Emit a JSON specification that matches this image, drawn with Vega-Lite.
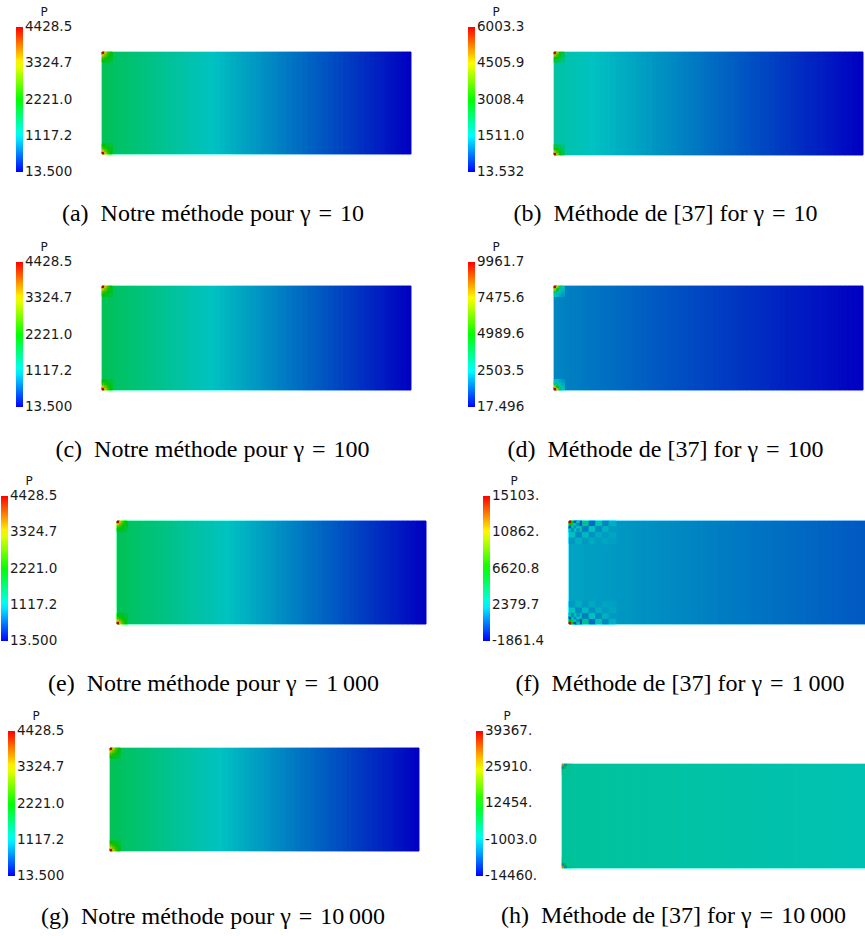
{
  "$schema": "https://vega.github.io/schema/vega-lite/v6.json",
  "padding": 0,
  "background": "white",
  "columns": 2,
  "spacing": 0,
  "bounds": "flush",
  "resolve": {"scale": {"color": "independent", "stroke": "independent", "x": "independent", "y": "independent"}, "legend": {"color": "independent", "stroke": "independent"}},
  "config": {
    "view": {"stroke": null},
    "legend": {"orient": "none", "direction": "vertical", "gradientLength": 145, "gradientThickness": 7, "gradientStrokeWidth": 0, "labelFont": "DejaVu Sans", "labelFontSize": 13.5, "labelColor": "#1a1a1a", "labelOffset": 1, "labelBaseline": "middle", "labelOverlap": false, "titleFont": "DejaVu Sans", "titleFontSize": 12, "titleFontWeight": "normal", "titleColor": "#1a1a1a", "titleAnchor": "middle", "titlePadding": 8, "padding": 0},
    "title": {"font": "Liberation Serif", "fontSize": 24, "fontWeight": "normal", "color": "#000000", "orient": "bottom", "anchor": "middle", "frame": "group"}
  },
  "datasets": {
    "strips": [
      {"x0":0,"x1":0.05,"p":1723.6},{"x0":0.05,"x1":0.1,"p":1694.9},{"x0":0.1,"x1":0.15,"p":1666.2},{"x0":0.15,"x1":0.2,"p":1637.4},
      {"x0":0.2,"x1":0.25,"p":1608.7},{"x0":0.25,"x1":0.3,"p":1579.9},{"x0":0.3,"x1":0.35,"p":1551.2},{"x0":0.35,"x1":0.4,"p":1522.4},
      {"x0":0.4,"x1":0.45,"p":1493.7},{"x0":0.45,"x1":0.5,"p":1465.0},{"x0":0.5,"x1":0.55,"p":1436.2},{"x0":0.55,"x1":0.6,"p":1407.5},
      {"x0":0.6,"x1":0.65,"p":1378.7},{"x0":0.65,"x1":0.7,"p":1350.0},{"x0":0.7,"x1":0.75,"p":1321.3},{"x0":0.75,"x1":0.8,"p":1292.5},
      {"x0":0.8,"x1":0.85,"p":1263.8},{"x0":0.85,"x1":0.9,"p":1235.0},{"x0":0.9,"x1":0.95,"p":1206.3},{"x0":0.95,"x1":1.0,"p":1177.6},
      {"x0":1.0,"x1":1.05,"p":1148.8},{"x0":1.05,"x1":1.1,"p":1120.1},{"x0":1.1,"x1":1.15,"p":1091.3},{"x0":1.15,"x1":1.2,"p":1062.6},
      {"x0":1.2,"x1":1.25,"p":1033.9},{"x0":1.25,"x1":1.3,"p":1005.1},{"x0":1.3,"x1":1.35,"p":976.4},{"x0":1.35,"x1":1.4,"p":947.6},
      {"x0":1.4,"x1":1.45,"p":918.9},{"x0":1.45,"x1":1.5,"p":890.2},{"x0":1.5,"x1":1.55,"p":861.4},{"x0":1.55,"x1":1.6,"p":832.7},
      {"x0":1.6,"x1":1.65,"p":803.9},{"x0":1.65,"x1":1.7,"p":775.2},{"x0":1.7,"x1":1.75,"p":746.5},{"x0":1.75,"x1":1.8,"p":717.7},
      {"x0":1.8,"x1":1.85,"p":689.0},{"x0":1.85,"x1":1.9,"p":660.2},{"x0":1.9,"x1":1.95,"p":631.5},{"x0":1.95,"x1":2.0,"p":602.8},
      {"x0":2.0,"x1":2.05,"p":574.0},{"x0":2.05,"x1":2.1,"p":545.3},{"x0":2.1,"x1":2.15,"p":516.5},{"x0":2.15,"x1":2.2,"p":487.8},
      {"x0":2.2,"x1":2.25,"p":459.1},{"x0":2.25,"x1":2.3,"p":430.3},{"x0":2.3,"x1":2.35,"p":401.6},{"x0":2.35,"x1":2.4,"p":372.8},
      {"x0":2.4,"x1":2.45,"p":344.1},{"x0":2.45,"x1":2.5,"p":315.4},{"x0":2.5,"x1":2.55,"p":286.6},{"x0":2.55,"x1":2.6,"p":257.9},
      {"x0":2.6,"x1":2.65,"p":229.1},{"x0":2.65,"x1":2.7,"p":200.4},{"x0":2.7,"x1":2.75,"p":171.7},{"x0":2.75,"x1":2.8,"p":142.9},
      {"x0":2.8,"x1":2.85,"p":114.2},{"x0":2.85,"x1":2.9,"p":85.4},{"x0":2.9,"x1":2.95,"p":56.7},{"x0":2.95,"x1":3.0,"p":28.0}
    ],
    "spots": [
      {"x0":0,"x1":0.025,"y0":0.975,"y1":1,"pa":4428.5,"pb":6003.3,"pd":9961.7,"pf":15103,"ph":30000},
      {"x0":0.025,"x1":0.05,"y0":0.975,"y1":1,"pa":3287,"pb":4200,"pd":7000,"pf":6500,"ph":-5000},
      {"x0":0.05,"x1":0.075,"y0":0.975,"y1":1,"pa":2580,"pb":3084,"pd":3500,"pf":-300,"ph":4000},
      {"x0":0.075,"x1":0.1,"y0":0.975,"y1":1,"pa":2172,"pb":2440,"pd":2700,"pf":3300,"ph":2500},
      {"x0":0,"x1":0.025,"y0":0.95,"y1":0.975,"pa":3287,"pb":4200,"pd":7000,"pf":6500,"ph":-5000},
      {"x0":0.025,"x1":0.05,"y0":0.95,"y1":0.975,"pa":2825,"pb":3470,"pd":4500,"pf":3800,"ph":9000},
      {"x0":0.05,"x1":0.075,"y0":0.95,"y1":0.975,"pa":2390,"pb":2783,"pd":3000,"pf":3000,"ph":500},
      {"x0":0.075,"x1":0.1,"y0":0.95,"y1":0.975,"pa":2091,"pb":2311,"pd":2400,"pf":1100,"ph":1500},
      {"x0":0,"x1":0.025,"y0":0.925,"y1":0.95,"pa":2580,"pb":3084,"pd":3500,"pf":-300,"ph":4000},
      {"x0":0.025,"x1":0.05,"y0":0.925,"y1":0.95,"pa":2390,"pb":2783,"pd":3000,"pf":3000,"ph":500},
      {"x0":0.05,"x1":0.075,"y0":0.925,"y1":0.95,"pa":2172,"pb":2440,"pd":2600,"pf":1200,"ph":2500},
      {"x0":0.075,"x1":0.1,"y0":0.925,"y1":0.95,"pa":1998,"pb":2165,"pd":2200,"pf":2400,"ph":1900},
      {"x0":0,"x1":0.025,"y0":0.9,"y1":0.925,"pa":2172,"pb":2440,"pd":2700,"pf":3300,"ph":2500},
      {"x0":0.025,"x1":0.05,"y0":0.9,"y1":0.925,"pa":2091,"pb":2311,"pd":2400,"pf":1100,"ph":1500},
      {"x0":0.05,"x1":0.075,"y0":0.9,"y1":0.925,"pa":1998,"pb":2165,"pd":2200,"pf":2400,"ph":1900},
      {"x0":0.075,"x1":0.1,"y0":0.9,"y1":0.925,"pa":1900,"pb":2011,"pd":2000,"pf":1500,"ph":1800},
      {"x0":0,"x1":0.025,"y0":0,"y1":0.025,"pa":4428.5,"pb":6003.3,"pd":9961.7,"pf":15103,"ph":30000},
      {"x0":0.025,"x1":0.05,"y0":0,"y1":0.025,"pa":3287,"pb":4200,"pd":7000,"pf":6500,"ph":-5000},
      {"x0":0.05,"x1":0.075,"y0":0,"y1":0.025,"pa":2580,"pb":3084,"pd":3500,"pf":-300,"ph":4000},
      {"x0":0.075,"x1":0.1,"y0":0,"y1":0.025,"pa":2172,"pb":2440,"pd":2700,"pf":3300,"ph":2500},
      {"x0":0,"x1":0.025,"y0":0.025,"y1":0.05,"pa":3287,"pb":4200,"pd":7000,"pf":6500,"ph":-5000},
      {"x0":0.025,"x1":0.05,"y0":0.025,"y1":0.05,"pa":2825,"pb":3470,"pd":4500,"pf":3800,"ph":9000},
      {"x0":0.05,"x1":0.075,"y0":0.025,"y1":0.05,"pa":2390,"pb":2783,"pd":3000,"pf":3000,"ph":500},
      {"x0":0.075,"x1":0.1,"y0":0.025,"y1":0.05,"pa":2091,"pb":2311,"pd":2400,"pf":1100,"ph":1500},
      {"x0":0,"x1":0.025,"y0":0.05,"y1":0.075,"pa":2580,"pb":3084,"pd":3500,"pf":-300,"ph":4000},
      {"x0":0.025,"x1":0.05,"y0":0.05,"y1":0.075,"pa":2390,"pb":2783,"pd":3000,"pf":3000,"ph":500},
      {"x0":0.05,"x1":0.075,"y0":0.05,"y1":0.075,"pa":2172,"pb":2440,"pd":2600,"pf":1200,"ph":2500},
      {"x0":0.075,"x1":0.1,"y0":0.05,"y1":0.075,"pa":1998,"pb":2165,"pd":2200,"pf":2400,"ph":1900},
      {"x0":0,"x1":0.025,"y0":0.075,"y1":0.1,"pa":2172,"pb":2440,"pd":2700,"pf":3300,"ph":2500},
      {"x0":0.025,"x1":0.05,"y0":0.075,"y1":0.1,"pa":2091,"pb":2311,"pd":2400,"pf":1100,"ph":1500},
      {"x0":0.05,"x1":0.075,"y0":0.075,"y1":0.1,"pa":1998,"pb":2165,"pd":2200,"pf":2400,"ph":1900},
      {"x0":0.075,"x1":0.1,"y0":0.075,"y1":0.1,"pa":1900,"pb":2011,"pd":2000,"pf":1500,"ph":1800}
    ],
    "checker": [
      {"x0":0,"x1":0.065,"y0":0.945,"y1":1,"pf":3700},{"x0":0.065,"x1":0.13,"y0":0.945,"y1":1,"pf":-200},{"x0":0.13,"x1":0.195,"y0":0.945,"y1":1,"pf":3500},{"x0":0.195,"x1":0.26,"y0":0.945,"y1":1,"pf":500},{"x0":0.26,"x1":0.325,"y0":0.945,"y1":1,"pf":2800},{"x0":0.325,"x1":0.39,"y0":0.945,"y1":1,"pf":1100},{"x0":0.39,"x1":0.455,"y0":0.945,"y1":1,"pf":2000},
      {"x0":0,"x1":0.065,"y0":0.89,"y1":0.945,"pf":700},{"x0":0.065,"x1":0.13,"y0":0.89,"y1":0.945,"pf":2900},{"x0":0.13,"x1":0.195,"y0":0.89,"y1":0.945,"pf":900},{"x0":0.195,"x1":0.26,"y0":0.89,"y1":0.945,"pf":2400},{"x0":0.26,"x1":0.325,"y0":0.89,"y1":0.945,"pf":1200},{"x0":0.325,"x1":0.39,"y0":0.89,"y1":0.945,"pf":2000},{"x0":0.39,"x1":0.455,"y0":0.89,"y1":0.945,"pf":1500},
      {"x0":0,"x1":0.065,"y0":0.835,"y1":0.89,"pf":2400},{"x0":0.065,"x1":0.13,"y0":0.835,"y1":0.89,"pf":1200},{"x0":0.13,"x1":0.195,"y0":0.835,"y1":0.89,"pf":2150},{"x0":0.195,"x1":0.26,"y0":0.835,"y1":0.89,"pf":1350},{"x0":0.26,"x1":0.325,"y0":0.835,"y1":0.89,"pf":1900},{"x0":0.325,"x1":0.39,"y0":0.835,"y1":0.89,"pf":1550},{"x0":0.39,"x1":0.455,"y0":0.835,"y1":0.89,"pf":1750},
      {"x0":0,"x1":0.065,"y0":0.78,"y1":0.835,"pf":1450},{"x0":0.065,"x1":0.13,"y0":0.78,"y1":0.835,"pf":1950},{"x0":0.13,"x1":0.195,"y0":0.78,"y1":0.835,"pf":1500},{"x0":0.195,"x1":0.26,"y0":0.78,"y1":0.835,"pf":1850},{"x0":0.26,"x1":0.325,"y0":0.78,"y1":0.835,"pf":1550},{"x0":0.325,"x1":0.39,"y0":0.78,"y1":0.835,"pf":1750},{"x0":0.39,"x1":0.455,"y0":0.78,"y1":0.835,"pf":1650},
      {"x0":0,"x1":0.065,"y0":0,"y1":0.055,"pf":3700},{"x0":0.065,"x1":0.13,"y0":0,"y1":0.055,"pf":-200},{"x0":0.13,"x1":0.195,"y0":0,"y1":0.055,"pf":3500},{"x0":0.195,"x1":0.26,"y0":0,"y1":0.055,"pf":500},{"x0":0.26,"x1":0.325,"y0":0,"y1":0.055,"pf":2800},{"x0":0.325,"x1":0.39,"y0":0,"y1":0.055,"pf":1100},{"x0":0.39,"x1":0.455,"y0":0,"y1":0.055,"pf":2000},
      {"x0":0,"x1":0.065,"y0":0.055,"y1":0.11,"pf":700},{"x0":0.065,"x1":0.13,"y0":0.055,"y1":0.11,"pf":2900},{"x0":0.13,"x1":0.195,"y0":0.055,"y1":0.11,"pf":900},{"x0":0.195,"x1":0.26,"y0":0.055,"y1":0.11,"pf":2400},{"x0":0.26,"x1":0.325,"y0":0.055,"y1":0.11,"pf":1200},{"x0":0.325,"x1":0.39,"y0":0.055,"y1":0.11,"pf":2000},{"x0":0.39,"x1":0.455,"y0":0.055,"y1":0.11,"pf":1500},
      {"x0":0,"x1":0.065,"y0":0.11,"y1":0.165,"pf":2400},{"x0":0.065,"x1":0.13,"y0":0.11,"y1":0.165,"pf":1200},{"x0":0.13,"x1":0.195,"y0":0.11,"y1":0.165,"pf":2150},{"x0":0.195,"x1":0.26,"y0":0.11,"y1":0.165,"pf":1350},{"x0":0.26,"x1":0.325,"y0":0.11,"y1":0.165,"pf":1900},{"x0":0.325,"x1":0.39,"y0":0.11,"y1":0.165,"pf":1550},{"x0":0.39,"x1":0.455,"y0":0.11,"y1":0.165,"pf":1750},
      {"x0":0,"x1":0.065,"y0":0.165,"y1":0.22,"pf":1450},{"x0":0.065,"x1":0.13,"y0":0.165,"y1":0.22,"pf":1950},{"x0":0.13,"x1":0.195,"y0":0.165,"y1":0.22,"pf":1500},{"x0":0.195,"x1":0.26,"y0":0.165,"y1":0.22,"pf":1850},{"x0":0.26,"x1":0.325,"y0":0.165,"y1":0.22,"pf":1550},{"x0":0.325,"x1":0.39,"y0":0.165,"y1":0.22,"pf":1750},{"x0":0.39,"x1":0.455,"y0":0.165,"y1":0.22,"pf":1650}
    ],
    "shade": [{"x0":0,"x1":3}]
  },
  "concat": [
    {
      "width": 430, "height": 234,
      "title": {"text": "(a)\u2002Notre méthode pour γ\u2004=\u200410", "offset": -32, "dx": -2},
      "layer": [
        {"data": {"name": "strips"}, "mark": {"type": "rect", "clip": true, "strokeWidth": 1},
         "encoding": {
           "x": {"field": "x0", "type": "quantitative", "scale": {"domain": [-0.9903, 3.1845], "nice": false, "zero": false}, "axis": null},
           "x2": {"field": "x1"},
           "y": {"datum": 0, "type": "quantitative", "scale": {"domain": [-0.7843, 1.5098], "nice": false, "zero": false}, "axis": null},
           "y2": {"datum": 1},
           "color": {"field": "p", "type": "quantitative", "scale": {"domain": [13.5, 1117.2, 2221.0, 3324.7, 4428.5], "range": ["#0000ff", "#00ffff", "#00ff00", "#ffff00", "#ff0000"], "interpolate": "rgb", "clamp": true},
             "legend": {"type": "gradient", "title": "P", "legendX": 16, "legendY": 7, "titlePadding": 8, "labelBaseline": "middle", "labelFontSize": 13.5, "values": [13.6, 1117.2, 2221.0, 3324.7, 4428.4], "labelExpr": "datum.value < 100 ? '13.500' : datum.value > 4400 ? '4428.5' : format(datum.value, '.1f')"}},
           "stroke": {"field": "p", "type": "quantitative", "scale": {"domain": [13.5001, 1117.2, 2221.0, 3324.7, 4428.5001], "range": ["#0000ff", "#00ffff", "#00ff00", "#ffff00", "#ff0000"], "interpolate": "rgb", "clamp": true}, "legend": null}
         }},
        {"data": {"name": "spots"}, "mark": {"type": "rect", "clip": true, "strokeWidth": 1},
         "encoding": {"x": {"field": "x0", "type": "quantitative"}, "x2": {"field": "x1"}, "y": {"field": "y0", "type": "quantitative"}, "y2": {"field": "y1"},
           "color": {"field": "pa", "type": "quantitative"}, "stroke": {"field": "pa", "type": "quantitative", "legend": null}}},
        {"data": {"name": "shade"}, "mark": {"type": "rect", "clip": true, "color": "#000000", "opacity": 0.24},
         "encoding": {"x": {"field": "x0", "type": "quantitative"}, "x2": {"field": "x1"}, "y": {"datum": 0, "type": "quantitative"}, "y2": {"datum": 1}}}
      ]
    },
    {
      "width": 435, "height": 234,
      "title": {"text": "(b)\u2002Méthode de [37] for γ\u2004=\u200410", "offset": -32, "dx": 18},
      "layer": [
        {"data": {"name": "strips"}, "mark": {"type": "rect", "clip": true, "strokeWidth": 1},
         "encoding": {
           "x": {"field": "x0", "type": "quantitative", "scale": {"domain": [-1.2039, 3.0194], "nice": false, "zero": false}, "axis": null},
           "x2": {"field": "x1"},
           "y": {"datum": 0, "type": "quantitative", "scale": {"domain": [-0.7670, 1.5049], "nice": false, "zero": false}, "axis": null},
           "y2": {"datum": 1},
           "color": {"field": "p", "type": "quantitative", "scale": {"domain": [13.532, 1511.0, 3008.4, 4505.9, 6003.3], "range": ["#0000ff", "#00ffff", "#00ff00", "#ffff00", "#ff0000"], "interpolate": "rgb", "clamp": true},
             "legend": {"type": "gradient", "title": "P", "legendX": 38, "legendY": 7, "titlePadding": 8, "labelBaseline": "middle", "labelFontSize": 13.5, "values": [13.6, 1511.0, 3008.4, 4505.9, 6003.2], "labelExpr": "datum.value < 100 ? '13.532' : datum.value > 6000 ? '6003.3' : format(datum.value, '.1f')"}},
           "stroke": {"field": "p", "type": "quantitative", "scale": {"domain": [13.5321, 1511.0, 3008.4, 4505.9, 6003.3001], "range": ["#0000ff", "#00ffff", "#00ff00", "#ffff00", "#ff0000"], "interpolate": "rgb", "clamp": true}, "legend": null}
         }},
        {"data": {"name": "spots"}, "mark": {"type": "rect", "clip": true, "strokeWidth": 1},
         "encoding": {"x": {"field": "x0", "type": "quantitative"}, "x2": {"field": "x1"}, "y": {"field": "y0", "type": "quantitative"}, "y2": {"field": "y1"},
           "color": {"field": "pb", "type": "quantitative"}, "stroke": {"field": "pb", "type": "quantitative", "legend": null}}},
        {"data": {"name": "shade"}, "mark": {"type": "rect", "clip": true, "color": "#000000", "opacity": 0.24},
         "encoding": {"x": {"field": "x0", "type": "quantitative"}, "x2": {"field": "x1"}, "y": {"datum": 0, "type": "quantitative"}, "y2": {"datum": 1}}}
      ]
    },
    {
      "width": 430, "height": 234,
      "title": {"text": "(c)\u2002Notre méthode pour γ\u2004=\u2004100", "offset": -30, "dx": -2.5},
      "layer": [
        {"data": {"name": "strips"}, "mark": {"type": "rect", "clip": true, "strokeWidth": 1},
         "encoding": {
           "x": {"field": "x0", "type": "quantitative", "scale": {"domain": [-0.9903, 3.1845], "nice": false, "zero": false}, "axis": null},
           "x2": {"field": "x1"},
           "y": {"datum": 0, "type": "quantitative", "scale": {"domain": [-0.75, 1.5], "nice": false, "zero": false}, "axis": null},
           "y2": {"datum": 1},
           "color": {"field": "p", "type": "quantitative", "scale": {"domain": [13.5, 1117.2, 2221.0, 3324.7, 4428.5], "range": ["#0000ff", "#00ffff", "#00ff00", "#ffff00", "#ff0000"], "interpolate": "rgb", "clamp": true},
             "legend": {"type": "gradient", "title": "P", "legendX": 16, "legendY": 8, "titlePadding": 8, "labelBaseline": "middle", "labelFontSize": 13.5, "values": [13.6, 1117.2, 2221.0, 3324.7, 4428.4], "labelExpr": "datum.value < 100 ? '13.500' : datum.value > 4400 ? '4428.5' : format(datum.value, '.1f')"}},
           "stroke": {"field": "p", "type": "quantitative", "scale": {"domain": [13.5001, 1117.2, 2221.0, 3324.7, 4428.5001], "range": ["#0000ff", "#00ffff", "#00ff00", "#ffff00", "#ff0000"], "interpolate": "rgb", "clamp": true}, "legend": null}
         }},
        {"data": {"name": "spots"}, "mark": {"type": "rect", "clip": true, "strokeWidth": 1},
         "encoding": {"x": {"field": "x0", "type": "quantitative"}, "x2": {"field": "x1"}, "y": {"field": "y0", "type": "quantitative"}, "y2": {"field": "y1"},
           "color": {"field": "pa", "type": "quantitative"}, "stroke": {"field": "pa", "type": "quantitative", "legend": null}}},
        {"data": {"name": "shade"}, "mark": {"type": "rect", "clip": true, "color": "#000000", "opacity": 0.24},
         "encoding": {"x": {"field": "x0", "type": "quantitative"}, "x2": {"field": "x1"}, "y": {"datum": 0, "type": "quantitative"}, "y2": {"datum": 1}}}
      ]
    },
    {
      "width": 435, "height": 234,
      "title": {"text": "(d)\u2002Méthode de [37] for γ\u2004=\u2004100", "offset": -30, "dx": 18},
      "layer": [
        {"data": {"name": "strips"}, "mark": {"type": "rect", "clip": true, "strokeWidth": 1},
         "encoding": {
           "x": {"field": "x0", "type": "quantitative", "scale": {"domain": [-1.2039, 3.0194], "nice": false, "zero": false}, "axis": null},
           "x2": {"field": "x1"},
           "y": {"datum": 0, "type": "quantitative", "scale": {"domain": [-0.75, 1.5], "nice": false, "zero": false}, "axis": null},
           "y2": {"datum": 1},
           "color": {"field": "p", "type": "quantitative", "scale": {"domain": [17.496, 2503.5, 4989.6, 7475.6, 9961.7], "range": ["#0000ff", "#00ffff", "#00ff00", "#ffff00", "#ff0000"], "interpolate": "rgb", "clamp": true},
             "legend": {"type": "gradient", "title": "P", "legendX": 38, "legendY": 8, "titlePadding": 8, "labelBaseline": "middle", "labelFontSize": 13.5, "values": [17.6, 2503.5, 4989.6, 7475.6, 9961.6], "labelExpr": "datum.value < 100 ? '17.496' : datum.value > 9900 ? '9961.7' : format(datum.value, '.1f')"}},
           "stroke": {"field": "p", "type": "quantitative", "scale": {"domain": [17.4961, 2503.5, 4989.6, 7475.6, 9961.7001], "range": ["#0000ff", "#00ffff", "#00ff00", "#ffff00", "#ff0000"], "interpolate": "rgb", "clamp": true}, "legend": null}
         }},
        {"data": {"name": "spots"}, "mark": {"type": "rect", "clip": true, "strokeWidth": 1},
         "encoding": {"x": {"field": "x0", "type": "quantitative"}, "x2": {"field": "x1"}, "y": {"field": "y0", "type": "quantitative"}, "y2": {"field": "y1"},
           "color": {"field": "pd", "type": "quantitative"}, "stroke": {"field": "pd", "type": "quantitative", "legend": null}}},
        {"data": {"name": "shade"}, "mark": {"type": "rect", "clip": true, "color": "#000000", "opacity": 0.24},
         "encoding": {"x": {"field": "x0", "type": "quantitative"}, "x2": {"field": "x1"}, "y": {"datum": 0, "type": "quantitative"}, "y2": {"datum": 1}}}
      ]
    },
    {
      "width": 430, "height": 234,
      "title": {"text": "(e)\u2002Notre méthode pour γ\u2004=\u20041\u2009000", "offset": -30, "dx": -1.5},
      "layer": [
        {"data": {"name": "strips"}, "mark": {"type": "rect", "clip": true, "strokeWidth": 1},
         "encoding": {
           "x": {"field": "x0", "type": "quantitative", "scale": {"domain": [-1.1359, 3.0388], "nice": false, "zero": false}, "axis": null},
           "x2": {"field": "x1"},
           "y": {"datum": 0, "type": "quantitative", "scale": {"domain": [-0.7573, 1.5146], "nice": false, "zero": false}, "axis": null},
           "y2": {"datum": 1},
           "color": {"field": "p", "type": "quantitative", "scale": {"domain": [13.5, 1117.2, 2221.0, 3324.7, 4428.5], "range": ["#0000ff", "#00ffff", "#00ff00", "#ffff00", "#ff0000"], "interpolate": "rgb", "clamp": true},
             "legend": {"type": "gradient", "title": "P", "legendX": 1, "legendY": 8, "titlePadding": 8, "labelBaseline": "middle", "labelFontSize": 13.5, "values": [13.6, 1117.2, 2221.0, 3324.7, 4428.4], "labelExpr": "datum.value < 100 ? '13.500' : datum.value > 4400 ? '4428.5' : format(datum.value, '.1f')"}},
           "stroke": {"field": "p", "type": "quantitative", "scale": {"domain": [13.5001, 1117.2, 2221.0, 3324.7, 4428.5001], "range": ["#0000ff", "#00ffff", "#00ff00", "#ffff00", "#ff0000"], "interpolate": "rgb", "clamp": true}, "legend": null}
         }},
        {"data": {"name": "spots"}, "mark": {"type": "rect", "clip": true, "strokeWidth": 1},
         "encoding": {"x": {"field": "x0", "type": "quantitative"}, "x2": {"field": "x1"}, "y": {"field": "y0", "type": "quantitative"}, "y2": {"field": "y1"},
           "color": {"field": "pa", "type": "quantitative"}, "stroke": {"field": "pa", "type": "quantitative", "legend": null}}},
        {"data": {"name": "shade"}, "mark": {"type": "rect", "clip": true, "color": "#000000", "opacity": 0.24},
         "encoding": {"x": {"field": "x0", "type": "quantitative"}, "x2": {"field": "x1"}, "y": {"datum": 0, "type": "quantitative"}, "y2": {"datum": 1}}}
      ]
    },
    {
      "width": 435, "height": 234,
      "title": {"text": "(f)\u2002Méthode de [37] for γ\u2004=\u20041\u2009000", "offset": -30, "dx": 32.5},
      "layer": [
        {"data": {"name": "strips"}, "mark": {"type": "rect", "clip": true, "strokeWidth": 1},
         "encoding": {
           "x": {"field": "x0", "type": "quantitative", "scale": {"domain": [-1.3495, 2.8738], "nice": false, "zero": false}, "axis": null},
           "x2": {"field": "x1"},
           "y": {"datum": 0, "type": "quantitative", "scale": {"domain": [-0.7573, 1.5146], "nice": false, "zero": false}, "axis": null},
           "y2": {"datum": 1},
           "color": {"field": "p", "type": "quantitative", "scale": {"domain": [-1861.4, 2379.7, 6620.8, 10862, 15103], "range": ["#0000ff", "#00ffff", "#00ff00", "#ffff00", "#ff0000"], "interpolate": "rgb", "clamp": true},
             "legend": {"type": "gradient", "title": "P", "legendX": 53, "legendY": 8, "titlePadding": 8, "labelBaseline": "middle", "labelFontSize": 13.5, "values": [-1861.3, 2379.7, 6620.8, 10862, 15102.9], "labelExpr": "datum.value < 0 ? '-1861.4' : datum.value > 15000 ? '15103.' : datum.value > 10000 ? '10862.' : format(datum.value, '.1f')"}},
           "stroke": {"field": "p", "type": "quantitative", "scale": {"domain": [-1861.3999, 2379.7, 6620.8, 10862, 15103.0001], "range": ["#0000ff", "#00ffff", "#00ff00", "#ffff00", "#ff0000"], "interpolate": "rgb", "clamp": true}, "legend": null}
         }},
        {"data": {"name": "checker"}, "mark": {"type": "rect", "clip": true, "strokeWidth": 1},
         "encoding": {"x": {"field": "x0", "type": "quantitative"}, "x2": {"field": "x1"}, "y": {"field": "y0", "type": "quantitative"}, "y2": {"field": "y1"},
           "color": {"field": "pf", "type": "quantitative"}, "stroke": {"field": "pf", "type": "quantitative", "legend": null}}},
        {"data": {"name": "spots"}, "mark": {"type": "rect", "clip": true, "strokeWidth": 1},
         "encoding": {"x": {"field": "x0", "type": "quantitative"}, "x2": {"field": "x1"}, "y": {"field": "y0", "type": "quantitative"}, "y2": {"field": "y1"},
           "color": {"field": "pf", "type": "quantitative"}, "stroke": {"field": "pf", "type": "quantitative", "legend": null}}},
        {"data": {"name": "shade"}, "mark": {"type": "rect", "clip": true, "color": "#000000", "opacity": 0.24},
         "encoding": {"x": {"field": "x0", "type": "quantitative"}, "x2": {"field": "x1"}, "y": {"datum": 0, "type": "quantitative"}, "y2": {"datum": 1}}}
      ]
    },
    {
      "width": 430, "height": 234,
      "title": {"text": "(g)\u2002Notre méthode pour γ\u2004=\u200410\u2009000", "offset": -31, "dx": -2},
      "layer": [
        {"data": {"name": "strips"}, "mark": {"type": "rect", "clip": true, "strokeWidth": 1},
         "encoding": {
           "x": {"field": "x0", "type": "quantitative", "scale": {"domain": [-1.0680, 3.1068], "nice": false, "zero": false}, "axis": null},
           "x2": {"field": "x1"},
           "y": {"datum": 0, "type": "quantitative", "scale": {"domain": [-0.8252, 1.4466], "nice": false, "zero": false}, "axis": null},
           "y2": {"datum": 1},
           "color": {"field": "p", "type": "quantitative", "scale": {"domain": [13.5, 1117.2, 2221.0, 3324.7, 4428.5], "range": ["#0000ff", "#00ffff", "#00ff00", "#ffff00", "#ff0000"], "interpolate": "rgb", "clamp": true},
             "legend": {"type": "gradient", "title": "P", "legendX": 8, "legendY": 9, "titlePadding": 8, "labelBaseline": "middle", "labelFontSize": 13.5, "values": [13.6, 1117.2, 2221.0, 3324.7, 4428.4], "labelExpr": "datum.value < 100 ? '13.500' : datum.value > 4400 ? '4428.5' : format(datum.value, '.1f')"}},
           "stroke": {"field": "p", "type": "quantitative", "scale": {"domain": [13.5001, 1117.2, 2221.0, 3324.7, 4428.5001], "range": ["#0000ff", "#00ffff", "#00ff00", "#ffff00", "#ff0000"], "interpolate": "rgb", "clamp": true}, "legend": null}
         }},
        {"data": {"name": "spots"}, "mark": {"type": "rect", "clip": true, "strokeWidth": 1},
         "encoding": {"x": {"field": "x0", "type": "quantitative"}, "x2": {"field": "x1"}, "y": {"field": "y0", "type": "quantitative"}, "y2": {"field": "y1"},
           "color": {"field": "pa", "type": "quantitative"}, "stroke": {"field": "pa", "type": "quantitative", "legend": null}}},
        {"data": {"name": "shade"}, "mark": {"type": "rect", "clip": true, "color": "#000000", "opacity": 0.24},
         "encoding": {"x": {"field": "x0", "type": "quantitative"}, "x2": {"field": "x1"}, "y": {"datum": 0, "type": "quantitative"}, "y2": {"datum": 1}}}
      ]
    },
    {
      "width": 435, "height": 234,
      "title": {"text": "(h)\u2002Méthode de [37] for γ\u2004=\u200410\u2009000", "offset": -32, "dx": 26},
      "layer": [
        {"data": {"name": "strips"}, "mark": {"type": "rect", "clip": true, "strokeWidth": 1},
         "encoding": {
           "x": {"field": "x0", "type": "quantitative", "scale": {"domain": [-1.2816, 2.9417], "nice": false, "zero": false}, "axis": null},
           "x2": {"field": "x1"},
           "y": {"datum": 0, "type": "quantitative", "scale": {"domain": [-0.6538, 1.5962], "nice": false, "zero": false}, "axis": null},
           "y2": {"datum": 1},
           "color": {"field": "p", "type": "quantitative", "scale": {"domain": [-14460, -1003.0, 12454, 25910, 39367], "range": ["#0000ff", "#00ffff", "#00ff00", "#ffff00", "#ff0000"], "interpolate": "rgb", "clamp": true},
             "legend": {"type": "gradient", "title": "P", "legendX": 46, "legendY": 9, "titlePadding": 8, "labelBaseline": "middle", "labelFontSize": 13.5, "values": [-14459.9, -1003.0, 12454, 25910, 39366.9], "labelExpr": "datum.value < -10000 ? '-14460.' : datum.value < 0 ? '-1003.0' : datum.value > 39000 ? '39367.' : format(datum.value, 'd') + '.'"}},
           "stroke": {"field": "p", "type": "quantitative", "scale": {"domain": [-14459.9999, -1003.0, 12454, 25910, 39367.0001], "range": ["#0000ff", "#00ffff", "#00ff00", "#ffff00", "#ff0000"], "interpolate": "rgb", "clamp": true}, "legend": null}
         }},
        {"data": {"name": "spots"}, "mark": {"type": "rect", "clip": true, "strokeWidth": 1},
         "encoding": {"x": {"field": "x0", "type": "quantitative"}, "x2": {"field": "x1"}, "y": {"field": "y0", "type": "quantitative"}, "y2": {"field": "y1"},
           "color": {"field": "ph", "type": "quantitative"}, "stroke": {"field": "ph", "type": "quantitative", "legend": null}}},
        {"data": {"name": "shade"}, "mark": {"type": "rect", "clip": true, "color": "#000000", "opacity": 0.24},
         "encoding": {"x": {"field": "x0", "type": "quantitative"}, "x2": {"field": "x1"}, "y": {"datum": 0, "type": "quantitative"}, "y2": {"datum": 1}}}
      ]
    }
  ]
}
